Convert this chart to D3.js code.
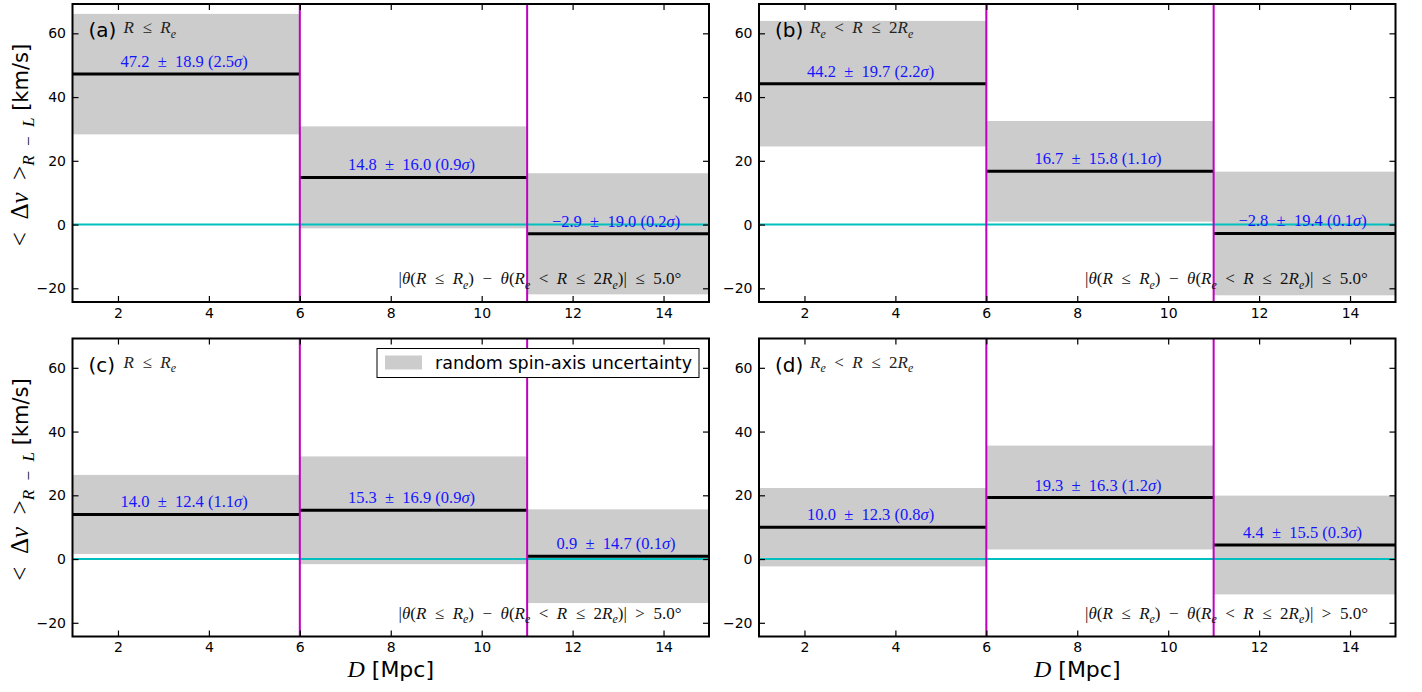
<!DOCTYPE html>
<html><head><meta charset="utf-8">
<script src="https://cdn.jsdelivr.net/npm/d3@7"></script>
<style>body{margin:0;background:#fff}svg{display:block}</style>
</head><body>
<script>
// Distance bins [Mpc]
const binEdges = [1, 6, 11, 15];

// Mean velocity offsets, uncertainties and significances per panel
const meanA = [47.2, 14.8, -2.9], errA = [18.9, 16.0, 19.0], sigA = [2.5, 0.9, 0.2];
const meanB = [44.2, 16.7, -2.8], errB = [19.7, 15.8, 19.4], sigB = [2.2, 1.1, 0.1];
const meanC = [14.0, 15.3, 0.9],  errC = [12.4, 16.9, 14.7], sigC = [1.1, 0.9, 0.1];
const meanD = [10.0, 19.3, 4.4],  errD = [12.3, 16.3, 15.5], sigD = [0.8, 1.2, 0.3];

const panelTags = ["(a)", "(b)", "(c)", "(d)"];
const xTicks = [2, 4, 6, 8, 10, 12, 14];
const yTicks = [-20, 0, 20, 40, 60];
const xDomain = [1, 15];
const yDomain = [-24.3, 69.2];
const legendLabel = "random spin-axis uncertainty";

// Math-style text fragments: [text, style] with style r=roman, i=italic, s=subscript
const SP = "\u2002"; // en space, mimics math operator spacing
const innerRegion = [["R","i"],[SP + "\u2264" + SP,"r"],["R","i"],["e","s"]];
const outerRegion = [["R","i"],["e","s"],[SP + "<" + SP,"r"],["R","i"],[SP + "\u2264" + SP + "2","r"],["R","i"],["e","s"]];
const anglePrefix = [["|","r"],["\u03b8","i"],["(","r"],["R","i"],[SP + "\u2264" + SP,"r"],["R","i"],["e","s"],[")" + SP + "\u2212" + SP,"r"],["\u03b8","i"],["(","r"],["R","i"],["e","s"],[SP + "<" + SP,"r"],["R","i"],[SP + "\u2264" + SP + "2","r"],["R","i"],["e","s"],[")|","r"]];
const angleSmall = [[SP + "\u2264" + SP + "5.0\u00b0","r"]];
const angleLarge = [[SP + ">" + SP + "5.0\u00b0","r"]];

const panels = [
  {mean: meanA, err: errA, sig: sigA, tag: panelTags[0], region: innerRegion, angle: anglePrefix.concat(angleSmall), col: 0, row: 0},
  {mean: meanB, err: errB, sig: sigB, tag: panelTags[1], region: outerRegion, angle: anglePrefix.concat(angleSmall), col: 1, row: 0},
  {mean: meanC, err: errC, sig: sigC, tag: panelTags[2], region: innerRegion, angle: anglePrefix.concat(angleLarge), col: 0, row: 1, legend: true},
  {mean: meanD, err: errD, sig: sigD, tag: panelTags[3], region: outerRegion, angle: anglePrefix.concat(angleLarge), col: 1, row: 1}
];

const W = 1422, H = 692;
const colX = [72.5, 759], plotW = 636.5;
const rowY = [4, 338.5], plotH = 298;

const GRAY = "#cccccc", MAGENTA = "#bf00bf", CYAN = "#00bfbf", BLUE = "#1414ff";
const SANS = "'DejaVu Sans', sans-serif";
const SERIF = "'Liberation Serif', serif";

const svg = d3.select("body").append("svg").attr("width", W).attr("height", H);

function mathText(sel, parts, size) {
  let shifted = false;
  parts.forEach(([t, st]) => {
    const ts = sel.append("tspan").text(t);
    if (st === "i") ts.attr("font-style", "italic");
    if (st === "s") {
      ts.attr("font-size", size * 0.7).attr("font-style", "italic").attr("dy", size * 0.28);
      shifted = true;
    } else if (shifted) {
      ts.attr("dy", -size * 0.28);
      shifted = false;
    }
  });
  return sel;
}

panels.forEach(p => {
  const x = d3.scaleLinear().domain(xDomain).range([colX[p.col], colX[p.col] + plotW]);
  const y = d3.scaleLinear().domain(yDomain).range([rowY[p.row] + plotH, rowY[p.row]]);
  const g = svg.append("g");
  const bins = p.mean.map((m, i) => ({x0: binEdges[i], x1: binEdges[i + 1], m, e: p.err[i], s: p.sig[i]}));

  const clipId = "clip" + p.col + p.row;
  g.append("clipPath").attr("id", clipId).append("rect")
    .attr("x", x(xDomain[0])).attr("y", y(yDomain[1]))
    .attr("width", plotW).attr("height", plotH);
  const inner = g.append("g").attr("clip-path", `url(#${clipId})`);

  // uncertainty bands
  inner.selectAll("rect.band").data(bins).join("rect").attr("class", "band")
    .attr("x", d => x(d.x0)).attr("width", d => x(d.x1) - x(d.x0))
    .attr("y", d => y(d.m + d.e)).attr("height", d => y(d.m - d.e) - y(d.m + d.e))
    .attr("fill", GRAY);

  // zero line
  inner.append("line").attr("x1", x(xDomain[0])).attr("x2", x(xDomain[1]))
    .attr("y1", y(0)).attr("y2", y(0)).attr("stroke", CYAN).attr("stroke-width", 2);

  // bin means
  inner.selectAll("line.mean").data(bins).join("line").attr("class", "mean")
    .attr("x1", d => x(d.x0)).attr("x2", d => x(d.x1))
    .attr("y1", d => y(d.m)).attr("y2", d => y(d.m))
    .attr("stroke", "#000").attr("stroke-width", 3);

  // bin boundaries
  inner.selectAll("line.edge").data(binEdges.slice(1, -1)).join("line").attr("class", "edge")
    .attr("x1", d => x(d)).attr("x2", d => x(d))
    .attr("y1", y(yDomain[0])).attr("y2", y(yDomain[1]))
    .attr("stroke", MAGENTA).attr("stroke-width", 2);

  // value labels
  bins.forEach(d => {
    const fmt = v => (v < 0 ? "\u2212" : "") + Math.abs(v).toFixed(1);
    const t = g.append("text").attr("x", x((d.x0 + d.x1) / 2) - 2).attr("y", y(d.m) - 7)
      .attr("text-anchor", "middle").attr("font-family", SERIF).attr("font-size", 16.5).attr("fill", BLUE);
    mathText(t, [[fmt(d.m) + SP + "\u00b1" + SP + d.e.toFixed(1) + " (" + d.s.toFixed(1), "r"], ["\u03c3", "i"], [")", "r"]], 16.5);
  });

  // panel tag and radial range
  g.append("text").attr("x", x(xDomain[0]) + 16).attr("y", rowY[p.row] + 33)
    .attr("font-family", SANS).attr("font-size", 20).text(p.tag);
  mathText(g.append("text").attr("x", x(xDomain[0]) + 51).attr("y", rowY[p.row] + 29)
    .attr("font-family", SERIF).attr("font-size", 17).attr("fill", "#222"), p.region, 17);

  // alignment condition
  mathText(g.append("text").attr("x", x(8.17)).attr("y", rowY[p.row] + plotH - 18)
    .attr("font-family", SERIF).attr("font-size", 17).attr("fill", "#111"), p.angle, 17);

  // legend
  if (p.legend) {
    const lx = x(xDomain[1]) - 332, ly = rowY[p.row] + 10;
    g.append("rect").attr("x", lx).attr("y", ly).attr("width", 322).attr("height", 29)
      .attr("fill", "#fff").attr("stroke", "#000").attr("stroke-width", 1);
    g.append("rect").attr("x", lx + 8).attr("y", ly + 7).attr("width", 37).attr("height", 14).attr("fill", GRAY);
    g.append("text").attr("x", lx + 58).attr("y", ly + 20).attr("font-family", SANS)
      .attr("font-size", 17.5).text(legendLabel);
  }

  // frame and inward ticks on all sides
  const xb = d3.axisBottom(x).tickValues(xTicks).tickSizeInner(-6).tickSizeOuter(0).tickPadding(6).tickFormat(d3.format("d"));
  const xt = d3.axisTop(x).tickValues(xTicks).tickSizeInner(-6).tickSizeOuter(0).tickFormat("");
  const yl = d3.axisLeft(y).tickValues(yTicks).tickSizeInner(-6).tickSizeOuter(0).tickPadding(6.5).tickFormat(d => d < 0 ? "\u2212" + Math.abs(d) : d);
  const yr = d3.axisRight(y).tickValues(yTicks).tickSizeInner(-6).tickSizeOuter(0).tickFormat("");
  const axes = [
    g.append("g").attr("transform", `translate(0,${y(yDomain[0])})`).call(xb),
    g.append("g").attr("transform", `translate(0,${y(yDomain[1])})`).call(xt),
    g.append("g").attr("transform", `translate(${x(xDomain[0])},0)`).call(yl),
    g.append("g").attr("transform", `translate(${x(xDomain[1])},0)`).call(yr)
  ];
  axes.forEach(a => {
    a.select(".domain").remove();
    a.selectAll(".tick line").attr("stroke", "#000").attr("stroke-width", 1.2);
    a.selectAll(".tick text").attr("font-family", SANS).attr("font-size", 14).attr("fill", "#000");
  });
  g.append("rect").attr("x", x(xDomain[0])).attr("y", y(yDomain[1]))
    .attr("width", plotW).attr("height", plotH)
    .attr("fill", "none").attr("stroke", "#000").attr("stroke-width", 2);

  // axis titles
  if (p.col === 0) {
    const cy = rowY[p.row] + plotH / 2 - 8;
    const t = svg.append("text").attr("transform", `translate(28,${cy}) rotate(-90)`)
      .attr("text-anchor", "middle").attr("font-size", 25);
    t.append("tspan").attr("font-family", SERIF).text("<" + SP + "\u0394");
    t.append("tspan").attr("font-family", SERIF).attr("font-style", "italic").text("v");
    t.append("tspan").attr("font-family", SERIF).text(SP + ">");
    t.append("tspan").attr("font-family", SERIF).attr("font-style", "italic").attr("font-size", 17).attr("dy", 6).text("R" + SP + "\u2212" + SP + "L");
    t.append("tspan").attr("font-family", SANS).attr("font-size", 21).attr("dy", -6).text(" [km/s]");
  }
  if (p.row === 1) {
    const t = svg.append("text").attr("x", colX[p.col] + plotW / 2).attr("y", 677)
      .attr("text-anchor", "middle").attr("font-size", 22);
    t.append("tspan").attr("font-family", SERIF).attr("font-style", "italic").attr("font-size", 24).text("D");
    t.append("tspan").attr("font-family", SANS).text(" [Mpc]");
  }
});
</script>
</body></html>
